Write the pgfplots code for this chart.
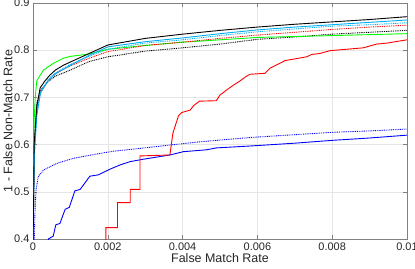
\documentclass[border=0pt]{standalone}
\usepackage{pgfplots}
\pgfplotsset{compat=1.18}
\usepackage{fontspec}
\setmainfont{Liberation Sans}
\definecolor{axgray}{rgb}{0.5,0.5,0.5}
\definecolor{gridgray}{rgb}{0.9,0.9,0.9}
\definecolor{txt}{rgb}{0.15,0.15,0.15}
\begin{document}
\begin{tikzpicture}
\begin{axis}[
  name=ax,
  scale only axis, width=374bp, height=236bp,
  xmin=0, xmax=0.01, ymin=0.4, ymax=0.9,
  xtick={0,0.002,0.004,0.006,0.008,0.01},
  xticklabels={0,0.002,0.004,0.006,0.008,0.01},
  ytick={0.4,0.5,0.6,0.7,0.8,0.9},
  yticklabels={0.4,0.5,0.6,0.7,0.8,0.9},
  scaled x ticks=false,
  /pgf/number format/assume math mode=true,
  tick align=inside, major tick length=4bp,
  xmajorgrids, ymajorgrids,
  grid style={gridgray, line width=0.5bp},
  axis line style={axgray, line width=0.6bp},
  tick style={axgray, line width=0.5bp},
  ticklabel style={font=\fontsize{11}{12}\selectfont, text=txt},
  label style={font=\fontsize{12.5}{14}\selectfont, text=txt},
  xlabel={False Match Rate},
  ylabel={1 - False Non-Match Rate},
  xlabel style={at={(axis description cs:0.5,-0.082)}, anchor=center},
  ylabel style={at={(axis description cs:-0.067,0.5)}, anchor=center},
  every axis plot/.append style={line width=0.9bp},
]
% blue dotted
\addplot[blue, dash pattern=on 0.9bp off 0.9bp] coordinates {
(0.00003,0.38)(0.00005,0.45)(0.00008,0.504)(0.00014,0.532)(0.00028,0.546)(0.00063,0.56)(0.00108,0.571)(0.0017,0.58)(0.00215,0.586)(0.00286,0.592)(0.00366,0.599)(0.00447,0.606)(0.0058,0.615)(0.007,0.621)(0.008,0.626)(0.009,0.629)(0.01,0.633)};
% blue solid
\addplot[blue] coordinates {
(0.00041,0.38)(0.00041,0.4)(0.00054,0.406)(0.00061,0.43)(0.00072,0.433)(0.00086,0.463)(0.00097,0.467)(0.00112,0.502)(0.00126,0.505)(0.00152,0.533)(0.00175,0.536)(0.00206,0.548)(0.00233,0.557)(0.0026,0.564)(0.00295,0.569)(0.00366,0.578)(0.00402,0.585)(0.00464,0.589)(0.0049,0.593)(0.0058,0.597)(0.007,0.603)(0.008,0.609)(0.009,0.614)(0.01,0.62)};
% red solid
\addplot[red] coordinates {
(0.00195,0.38)(0.00195,0.424)(0.00226,0.424)(0.00226,0.477)(0.0026,0.477)(0.0026,0.505)(0.00286,0.505)(0.00286,0.576)(0.00366,0.578)(0.00374,0.624)(0.00389,0.661)(0.00398,0.668)(0.0042,0.673)(0.0043,0.683)(0.00445,0.692)(0.0049,0.693)(0.005,0.705)(0.0052,0.717)(0.00536,0.726)(0.0055,0.733)(0.00571,0.745)(0.0058,0.749)(0.0062,0.751)(0.00634,0.762)(0.00674,0.778)(0.00696,0.781)(0.00732,0.786)(0.00745,0.791)(0.00767,0.793)(0.00794,0.799)(0.00883,0.805)(0.00919,0.813)(0.00946,0.815)(0.01,0.822)};
% black dotted
\addplot[black, dash pattern=on 0.9bp off 0.9bp] coordinates {
(0,0.38)(0.00002,0.5)(0.00004,0.6)(0.0001,0.688)(0.0002,0.715)(0.0004,0.733)(0.0006,0.745)(0.001,0.758)(0.0015,0.776)(0.002,0.786)(0.003,0.798)(0.004,0.805)(0.005,0.813)(0.006,0.823)(0.007,0.828)(0.008,0.834)(0.009,0.838)(0.01,0.842)};
% green
\addplot[green] coordinates {
(0,0.38)(0.00001,0.5)(0.00003,0.65)(0.00006,0.7)(0.0001,0.735)(0.00028,0.758)(0.00054,0.772)(0.00081,0.783)(0.001,0.787)(0.0015,0.792)(0.002,0.802)(0.003,0.81)(0.004,0.817)(0.005,0.822)(0.006,0.827)(0.007,0.829)(0.008,0.831)(0.009,0.833)(0.01,0.835)};
% red dotted
\addplot[red, dash pattern=on 0.9bp off 0.9bp] coordinates {
(0,0.38)(0.00002,0.5)(0.00004,0.6)(0.0001,0.67)(0.0002,0.71)(0.0004,0.735)(0.0006,0.75)(0.001,0.767)(0.0015,0.783)(0.002,0.797)(0.003,0.81)(0.004,0.817)(0.005,0.825)(0.006,0.832)(0.007,0.838)(0.008,0.844)(0.009,0.849)(0.01,0.853)};
% cyan dotted
\addplot[cyan, dash pattern=on 0.9bp off 0.9bp] coordinates {
(0,0.38)(0.00002,0.5)(0.00004,0.6)(0.0001,0.67)(0.0002,0.71)(0.0004,0.738)(0.0006,0.752)(0.001,0.77)(0.0015,0.787)(0.002,0.802)(0.003,0.815)(0.004,0.822)(0.005,0.831)(0.006,0.839)(0.007,0.845)(0.008,0.851)(0.009,0.854)(0.01,0.858)};
% cyan solid
\addplot[cyan] coordinates {
(0,0.38)(0.00002,0.5)(0.00004,0.58)(0.0001,0.66)(0.0002,0.71)(0.0004,0.735)(0.0006,0.75)(0.001,0.768)(0.0015,0.789)(0.002,0.807)(0.003,0.818)(0.004,0.826)(0.005,0.835)(0.006,0.843)(0.007,0.849)(0.008,0.854)(0.009,0.859)(0.01,0.864)};
% black solid
\addplot[black] coordinates {
(0,0.38)(0.00002,0.5)(0.00003,0.6)(0.0001,0.68)(0.00019,0.72)(0.00032,0.735)(0.00045,0.747)(0.0006,0.758)(0.00081,0.768)(0.001,0.775)(0.0015,0.793)(0.002,0.811)(0.003,0.825)(0.004,0.834)(0.005,0.842)(0.006,0.849)(0.007,0.855)(0.008,0.86)(0.009,0.865)(0.01,0.871)};
\end{axis}
\pgfresetboundingbox
\path ([xshift=-33bp,yshift=-30bp]ax.south west) rectangle ([xshift=8bp,yshift=3bp]ax.north east);
\end{tikzpicture}
\end{document}
